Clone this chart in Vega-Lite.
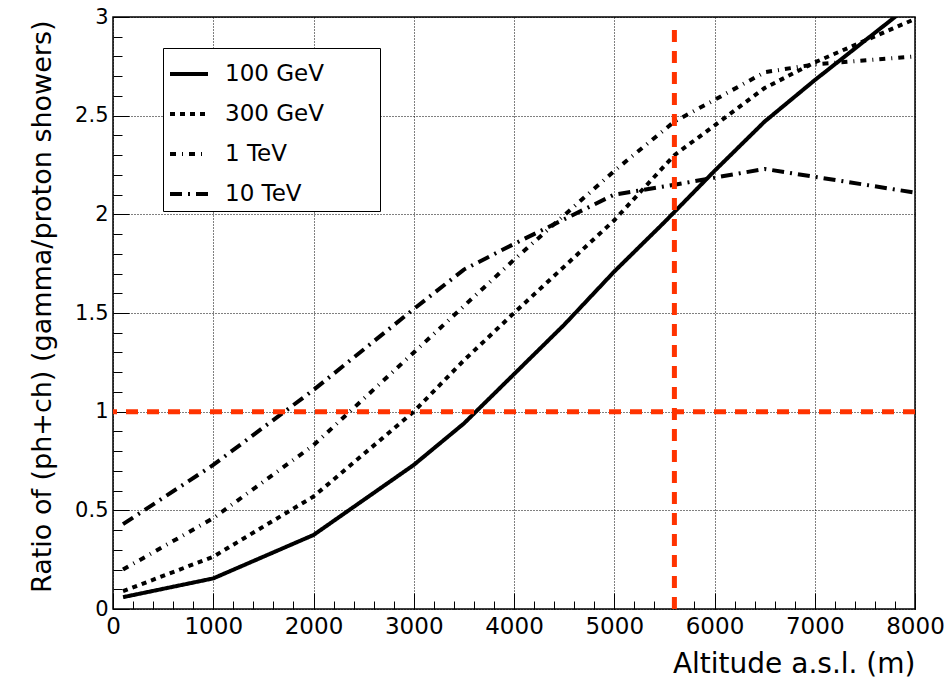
{
  "$schema": "https://vega.github.io/schema/vega-lite/v6.json",
  "width": 802,
  "height": 592,
  "autosize": {"type": "none"},
  "padding": {"left": 113, "top": 17, "right": 35, "bottom": 71},
  "background": "white",
  "config": {
    "view": {"stroke": "black", "strokeWidth": 1.5},
    "font": "DejaVu Sans"
  },
  "layer": [
    {
      "data": {
        "values": [
          {"alt": 100, "ratio": 0.06, "series": "100 GeV"},
          {"alt": 1000, "ratio": 0.155, "series": "100 GeV"},
          {"alt": 2000, "ratio": 0.375, "series": "100 GeV"},
          {"alt": 3000, "ratio": 0.73, "series": "100 GeV"},
          {"alt": 3500, "ratio": 0.94, "series": "100 GeV"},
          {"alt": 4000, "ratio": 1.19, "series": "100 GeV"},
          {"alt": 4500, "ratio": 1.44, "series": "100 GeV"},
          {"alt": 5000, "ratio": 1.71, "series": "100 GeV"},
          {"alt": 5500, "ratio": 1.96, "series": "100 GeV"},
          {"alt": 6000, "ratio": 2.22, "series": "100 GeV"},
          {"alt": 6500, "ratio": 2.47, "series": "100 GeV"},
          {"alt": 7000, "ratio": 2.68, "series": "100 GeV"},
          {"alt": 7500, "ratio": 2.88, "series": "100 GeV"},
          {"alt": 8000, "ratio": 3.08, "series": "100 GeV"},
          {"alt": 100, "ratio": 0.09, "series": "300 GeV"},
          {"alt": 1000, "ratio": 0.265, "series": "300 GeV"},
          {"alt": 2000, "ratio": 0.57, "series": "300 GeV"},
          {"alt": 3000, "ratio": 1.0, "series": "300 GeV"},
          {"alt": 3500, "ratio": 1.26, "series": "300 GeV"},
          {"alt": 4000, "ratio": 1.5, "series": "300 GeV"},
          {"alt": 5000, "ratio": 1.97, "series": "300 GeV"},
          {"alt": 5600, "ratio": 2.3, "series": "300 GeV"},
          {"alt": 6000, "ratio": 2.45, "series": "300 GeV"},
          {"alt": 6500, "ratio": 2.64, "series": "300 GeV"},
          {"alt": 7000, "ratio": 2.77, "series": "300 GeV"},
          {"alt": 7500, "ratio": 2.88, "series": "300 GeV"},
          {"alt": 8000, "ratio": 2.99, "series": "300 GeV"},
          {"alt": 100, "ratio": 0.2, "series": "1 TeV"},
          {"alt": 1000, "ratio": 0.46, "series": "1 TeV"},
          {"alt": 2000, "ratio": 0.83, "series": "1 TeV"},
          {"alt": 3000, "ratio": 1.3, "series": "1 TeV"},
          {"alt": 4000, "ratio": 1.77, "series": "1 TeV"},
          {"alt": 5000, "ratio": 2.22, "series": "1 TeV"},
          {"alt": 5600, "ratio": 2.47, "series": "1 TeV"},
          {"alt": 6000, "ratio": 2.58, "series": "1 TeV"},
          {"alt": 6500, "ratio": 2.72, "series": "1 TeV"},
          {"alt": 7000, "ratio": 2.76, "series": "1 TeV"},
          {"alt": 8000, "ratio": 2.8, "series": "1 TeV"},
          {"alt": 100, "ratio": 0.43, "series": "10 TeV"},
          {"alt": 1000, "ratio": 0.73, "series": "10 TeV"},
          {"alt": 2000, "ratio": 1.11, "series": "10 TeV"},
          {"alt": 3000, "ratio": 1.52, "series": "10 TeV"},
          {"alt": 3500, "ratio": 1.72, "series": "10 TeV"},
          {"alt": 4000, "ratio": 1.85, "series": "10 TeV"},
          {"alt": 5000, "ratio": 2.1, "series": "10 TeV"},
          {"alt": 5600, "ratio": 2.15, "series": "10 TeV"},
          {"alt": 6500, "ratio": 2.23, "series": "10 TeV"},
          {"alt": 7000, "ratio": 2.19, "series": "10 TeV"},
          {"alt": 8000, "ratio": 2.11, "series": "10 TeV"}
        ]
      },
      "mark": {"type": "line", "strokeWidth": 4, "clip": true, "color": "black"},
      "encoding": {
        "x": {
          "field": "alt",
          "type": "quantitative",
          "scale": {"domain": [0, 8000], "nice": false},
          "axis": {
            "title": "Altitude a.s.l. (m)",
            "titleFont": "DejaVu Sans",
            "titleFontSize": 28,
            "titleFontWeight": "normal",
            "titleColor": "black",
            "titleAnchor": "end",
            "titleAlign": "right",
            "titleX": 802,
            "titleY": 63,
            "titleBaseline": "alphabetic",
            "values": [0,200,400,600,800,1000,1200,1400,1600,1800,2000,2200,2400,2600,2800,3000,3200,3400,3600,3800,4000,4200,4400,4600,4800,5000,5200,5400,5600,5800,6000,6200,6400,6600,6800,7000,7200,7400,7600,7800,8000],
            "tickCount": 100,
            "format": "d",
            "labelExpr": "datum.value % 1000 === 0 ? datum.label : ''",
            "labelFont": "DejaVu Sans",
            "labelFontSize": 23,
            "labelColor": "black",
            "labelFlush": false,
            "labelOverlap": false,
            "labelPadding": 22,
            "labelBaseline": "top",
            "domain": false,
            "ticks": true,
            "tickColor": "black",
            "tickWidth": 1,
            "tickSize": {"condition": {"test": "datum.value % 1000 === 0", "value": -16}, "value": -8},
            "grid": true,
            "gridColor": "black",
            "gridWidth": 1,
            "gridDash": [1, 2],
            "gridOpacity": {"condition": {"test": "datum.value % 1000 === 0", "value": 1}, "value": 0}
          }
        },
        "y": {
          "field": "ratio",
          "type": "quantitative",
          "scale": {"domain": [0, 3], "nice": false},
          "axis": {
            "title": "Ratio of (ph+ch) (gamma/proton showers)",
            "titleFont": "DejaVu Sans",
            "titleFontSize": 27,
            "titleFontWeight": "normal",
            "titleColor": "black",
            "titleAngle": -90,
            "titleAlign": "right",
            "titleAnchor": "end",
            "titleBaseline": "alphabetic",
            "titleX": -63,
            "titleY": 3,
            "values": [0,0.1,0.2,0.3,0.4,0.5,0.6,0.7,0.8,0.9,1,1.1,1.2,1.3,1.4,1.5,1.6,1.7,1.8,1.9,2,2.1,2.2,2.3,2.4,2.5,2.6,2.7,2.8,2.9,3],
            "tickCount": 100,
            "format": "~g",
            "labelExpr": "abs(datum.value * 2 - round(datum.value * 2)) < 0.001 ? datum.label : ''",
            "labelFont": "DejaVu Sans",
            "labelFontSize": 21,
            "labelColor": "black",
            "labelFlush": false,
            "labelOverlap": false,
            "labelPadding": 21,
            "domain": false,
            "ticks": true,
            "tickColor": "black",
            "tickWidth": 1,
            "tickSize": {"condition": {"test": "abs(datum.value * 2 - round(datum.value * 2)) < 0.001", "value": -16}, "value": -9},
            "grid": true,
            "gridColor": "black",
            "gridWidth": 1,
            "gridDash": [1, 2],
            "gridOpacity": {"condition": {"test": "abs(datum.value * 2 - round(datum.value * 2)) < 0.001", "value": 1}, "value": 0}
          }
        },
        "strokeDash": {
          "field": "series",
          "type": "nominal",
          "scale": {
            "domain": ["100 GeV", "300 GeV", "1 TeV", "10 TeV"],
            "range": [[1, 0], [5, 5], [6, 6, 1, 6], [12, 6, 2, 6]]
          },
          "legend": {
            "orient": "none",
            "legendX": 50,
            "legendY": 31,
            "title": null,
            "fillColor": "white",
            "strokeColor": "black",
            "padding": 5,
            "symbolType": "stroke",
            "symbolSize": 1444,
            "symbolStrokeWidth": 4,
            "symbolStrokeColor": "black",
            "rowPadding": 7,
            "labelOffset": 15,
            "labelFont": "DejaVu Sans",
            "labelFontSize": 23,
            "labelColor": "black",
            "labelLimit": 400,
            "labelExpr": "datum.label + '\u2800\u2800\u2800'"
          }
        }
      }
    },
    {
      "data": {"values": [{"ratio": 1}]},
      "mark": {"type": "rule", "color": "#ff3300", "strokeWidth": 5, "strokeDash": [12, 9]},
      "encoding": {"y": {"field": "ratio", "type": "quantitative"}}
    },
    {
      "data": {"values": [{"alt": 5600, "ratio": 0, "ratio2": 2.95}]},
      "mark": {"type": "rule", "color": "#ff3300", "strokeWidth": 5, "strokeDash": [12, 9]},
      "encoding": {
        "x": {"field": "alt", "type": "quantitative"},
        "y": {"field": "ratio", "type": "quantitative"},
        "y2": {"field": "ratio2"}
      }
    }
  ]
}
